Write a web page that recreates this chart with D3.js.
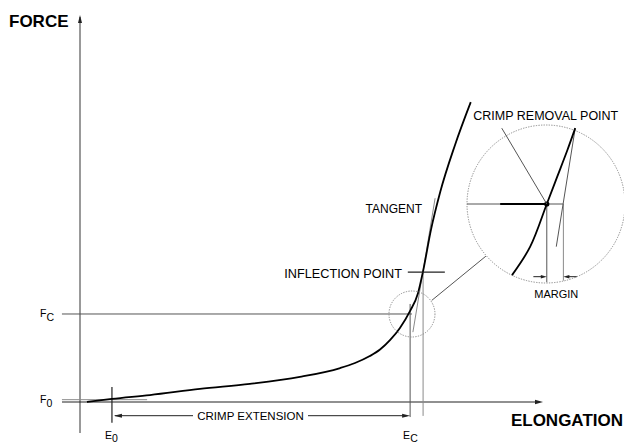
<!DOCTYPE html>
<html><head><meta charset="utf-8">
<script src="https://cdn.jsdelivr.net/npm/d3@7"></script>
<style>
body{margin:0;background:#fff}
svg{display:block}
text{font-family:"Liberation Sans",Arial,Helvetica,sans-serif;fill:#000}
</style>
</head><body>
<svg id="c" width="624" height="442"></svg>
<script>
// ---- data (abstract units: elongation 0..100, force 0..100) ----
const elongation = [1.5, 6.9, 15.1, 25.9, 36.7, 47.5, 56.2, 59.4, 62.6, 64.8, 67.0, 69.1, 71.3, 73.0, 74.1, 75.8, 77.8, 81.0, 84.4];
const force      = [0.0, 0.8, 1.8, 3.4, 4.7, 6.5, 8.8, 10.1, 11.9, 13.6, 16.1, 19.2, 23.6, 28.2, 33.9, 44.6, 54.4, 66.6, 77.7];
const yTickNames = ["F", "F"];
const yTickSubs  = ["0", "C"];
const yTickValues = [0.0, 22.8];
const xTickNames = ["E", "E"];
const xTickSubs  = ["0", "C"];
const xTickValues = [6.9, 71.3];
const inflection = [74.1, 33.9];
const tangentElong = [71.9, 76.7];
const tangentForce = [18.1, 52.8];
const f0GuideElong = [-3.9, 14.5];
const f0GuideForce = 0.6;
// magnified inset (units relative to inset circle, radius = 1)
const insetElong = [-0.43, -0.20, 0.01, 0.14, 0.27, 0.37];
const insetForce = [-0.90, -0.54, 0.00, 0.34, 0.68, 0.96];
const insetTangentElong = [0.13, 0.37];
const insetTangentForce = [-0.54, 0.96];
const crimpRemoval = [0.01, 0.0];
const marginEdge = 0.22;
const labels = {
  yTitle: "FORCE", xTitle: "ELONGATION", tangent: "TANGENT",
  inflection: "INFLECTION POINT", crimpExt: "CRIMP EXTENSION",
  crimpRemoval: "CRIMP REMOVAL POINT", margin: "MARGIN"
};

const svg = d3.select("#c");
const x = d3.scaleLinear().domain([0, 100]).range([80, 543]);
const y = d3.scaleLinear().domain([0, 100]).range([402, 16]);
const R = 79;
const ix = d3.scaleLinear().domain([-1, 1]).range([546 - R, 546 + R]);
const iy = d3.scaleLinear().domain([-1, 1]).range([204 + R, 204 - R]);

const DARK = "#222", MID = "#555", GRAY = "#8a8a8a";

function line(x1, y1, x2, y2, stroke, w) {
  svg.append("line").attr("x1", x1).attr("y1", y1).attr("x2", x2).attr("y2", y2)
    .attr("stroke", stroke).attr("stroke-width", w || 1);
}
function arrowHead(tx, ty, dx, dy, len, hw, fill) {
  const bx = tx - dx * len, by = ty - dy * len;
  const px = -dy * hw, py = dx * hw;
  svg.append("path").attr("d", `M${tx},${ty}L${bx + px},${by + py}L${bx - px},${by - py}Z`)
    .attr("fill", fill || DARK);
}

// ---- axes ----
line(x(0), y(-8), x(0), y(100) + 1, MID, 1.2);
arrowHead(x(0), y(100) - 1, 0, -1, 8, 2, DARK);
line(x(-3.9), y(0), x(100) - 4, y(0), DARK, 1.2);
arrowHead(x(100), y(0), 1, 0, 8, 2.2, DARK);

svg.append("text").attr("x", 9).attr("y", 27).attr("font-size", 17).attr("font-weight", "bold").text(labels.yTitle);
svg.append("text").attr("x", 623).attr("y", 426).attr("text-anchor", "end").attr("font-size", 17).attr("font-weight", "bold").text(labels.xTitle);

// F0 guide (gray) and FC line
line(x(f0GuideElong[0]), y(f0GuideForce), x(f0GuideElong[1]), y(f0GuideForce), GRAY, 1);
line(x(-3.9), y(yTickValues[1]), x(71.7), y(yTickValues[1]), MID, 1);

// y tick labels
yTickValues.forEach((v, i) => {
  const t = svg.append("text").attr("x", 40).attr("y", y(v) + (i === 0 ? 1 : 3)).attr("font-size", 10.5);
  t.append("tspan").text(yTickNames[i]);
  t.append("tspan").attr("dy", 4).text(yTickSubs[i]);
});

// E0 and EC verticals
line(x(xTickValues[0]), y(3.9), x(xTickValues[0]), y(-5.4), DARK, 1.2);
line(x(xTickValues[1]), y(25.4), x(xTickValues[1]), y(-3.9), MID, 1);
// vertical through inflection (gray)
line(x(inflection[0]), y(inflection[1]), x(inflection[0]), y(-3.6), GRAY, 1);

xTickValues.forEach((v, i) => {
  const t = svg.append("text").attr("x", x(v) - 7).attr("y", 438.5).attr("font-size", 10.5);
  t.append("tspan").text(xTickNames[i]);
  t.append("tspan").attr("dy", 3).text(xTickSubs[i]);
});

// crimp extension dimension arrow
const ceY = y(-3.55);
line(x(xTickValues[0]) + 3, ceY, 193, ceY, DARK, 1);
line(308, ceY, x(xTickValues[1]) - 3, ceY, DARK, 1);
arrowHead(x(xTickValues[0]) + 2, ceY, -1, 0, 8, 2, DARK);
arrowHead(x(xTickValues[1]), ceY, 1, 0, 8, 2, DARK);
svg.append("text").attr("x", 250.5).attr("y", 420).attr("text-anchor", "middle").attr("font-size", 11.5).text(labels.crimpExt);

// tangent (gray)
line(x(tangentElong[0]), y(tangentForce[0]), x(tangentElong[1]), y(tangentForce[1]), GRAY, 1);

// main curve
const pts = elongation.map((e, i) => [e, force[i]]);
svg.append("path").datum(pts)
  .attr("d", d3.line().x(d => x(d[0])).y(d => y(d[1])).curve(d3.curveMonotoneX))
  .attr("fill", "none").attr("stroke", "#000").attr("stroke-width", 1.8);

// inflection marker line + label
line(x(70.8), y(inflection[1]) + 1, x(78.8), y(inflection[1]) + 1, DARK, 1.2);
svg.append("text").attr("x", 402).attr("y", 278).attr("text-anchor", "end").attr("font-size", 12.7).text(labels.inflection);
svg.append("text").attr("x", 422).attr("y", 213).attr("text-anchor", "end").attr("font-size", 12).text(labels.tangent);

// small circle around region
const sc = [x(71.7), y(22.8)], sr = 23;
svg.append("circle").attr("cx", sc[0]).attr("cy", sc[1]).attr("r", sr)
  .attr("fill", "none").attr("stroke", GRAY).attr("stroke-width", 1).attr("stroke-dasharray", "1.3,1.3");
// big inset circle
const bc = [ix(0), iy(0)];
svg.append("circle").attr("cx", bc[0]).attr("cy", bc[1]).attr("r", R)
  .attr("fill", "none").attr("stroke", GRAY).attr("stroke-width", 1).attr("stroke-dasharray", "1.3,1.3");
// connector
{
  const dx = bc[0] - sc[0], dy = bc[1] - sc[1], L = Math.hypot(dx, dy);
  const ux = dx / L, uy = dy / L;
  line(sc[0] + ux * sr + 2, sc[1] + uy * sr + 1, bc[0] - ux * R + 1, bc[1] - uy * R + 2, MID, 1);
}

// ---- inset contents ----
const cr = [ix(crimpRemoval[0]), iy(crimpRemoval[1])];
line(ix(-1), cr[1], ix(marginEdge), cr[1], MID, 1);
line(ix(-0.58), cr[1], cr[0], cr[1], "#000", 1.8);
line(cr[0], cr[1], cr[0], iy(-0.99), MID, 1);
line(ix(marginEdge), cr[1], ix(marginEdge), iy(-0.97), GRAY, 1);
line(ix(insetTangentElong[0]), iy(insetTangentForce[0]), ix(insetTangentElong[1]), iy(insetTangentForce[1]), MID, 1);
const ipts = insetElong.map((e, i) => [e, insetForce[i]]);
svg.append("path").datum(ipts)
  .attr("d", d3.line().x(d => ix(d[0])).y(d => iy(d[1])).curve(d3.curveCatmullRom.alpha(0.5)))
  .attr("fill", "none").attr("stroke", "#000").attr("stroke-width", 1.8);
svg.append("circle").attr("cx", cr[0]).attr("cy", cr[1]).attr("r", 2.6).attr("fill", "#000");
// leader to crimp removal point
line(ix(-0.56), iy(0.96), cr[0], cr[1], MID, 1);
svg.append("text").attr("x", ix(-0.92)).attr("y", 120).attr("font-size", 12.5).text(labels.crimpRemoval);
// margin arrows
const mY = iy(-0.92);
line(ix(-0.16), mY, cr[0] - 4, mY, DARK, 1);
arrowHead(cr[0], mY, 1, 0, 6, 1.8, DARK);
line(ix(0.39), mY, ix(marginEdge) + 4, mY, DARK, 1);
arrowHead(ix(marginEdge), mY, -1, 0, 6, 1.8, DARK);
svg.append("text").attr("x", ix(0.13)).attr("y", 298).attr("text-anchor", "middle").attr("font-size", 11).text(labels.margin);
</script>
</body></html>
